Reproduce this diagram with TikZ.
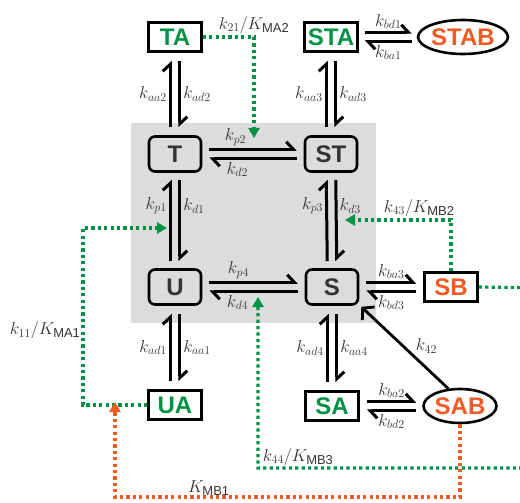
\documentclass[tikz,border=0pt]{standalone}
\usepackage{fontspec}
\setsansfont{Liberation Sans}
\usetikzlibrary{arrows.meta, positioning, backgrounds, shapes.geometric}

\definecolor{boxgreen}{HTML}{009245}
\definecolor{boxorange}{HTML}{F15A24}
\definecolor{coregray}{HTML}{DCDCDC}
\definecolor{inkgray}{HTML}{333333}

\begin{document}
\begin{tikzpicture}[
        x=1pt, y=-1pt, on grid,
        statebox/.style = {rectangle, draw=black, line width=2.6pt, fill=white, inner sep=0pt, minimum width=53pt, minimum height=29pt, font=\sffamily\bfseries\fontsize{24}{28}\selectfont, text=boxgreen},
        boundbox/.style = {statebox, text=boxorange},
        corebox/.style = {rectangle, rounded corners=6pt, draw=black, line width=2.6pt, inner sep=0pt, minimum width=52pt, minimum height=35pt, font=\sffamily\bfseries\fontsize{24}{28}\selectfont, text=inkgray},
        cplx/.style = {ellipse, draw=black, line width=2.6pt, fill=white, inner sep=0pt, minimum height=34pt, font=\sffamily\bfseries\fontsize{24}{28}\selectfont, text=boxorange},
        rate/.style = {font=\fontsize{18.5}{22}\selectfont, text=inkgray, inner sep=2pt},
        fwd/.style = {draw, line width=3pt, line join=miter, -{Straight Barb[harpoon, length=7pt, width=15pt]}},
        pull/.style = {draw, line width=2.8pt, -{Straight Barb[length=8pt, width=18pt]}},
        gdot/.style = {draw=boxgreen, line width=3.2pt, dash pattern=on 3.2pt off 3.2pt, -{Triangle[length=10pt, width=11pt]}},
        odot/.style = {gdot, draw=boxorange}
    ]
    \useasboundingbox (0,0) rectangle (520,503);

    % Core states
    \node [corebox] (T) at (175,154) {T};
    \node [corebox, right=156pt of T] (ST) {ST};
    \node [corebox, below=133pt of T] (U) {U};
    \node [corebox, right=157pt of U] (S) {S};

    % Bound states
    \node [statebox, above=117pt of T] (TA) {TA};
    \node [statebox, above=117pt of ST] (STA) {STA};
    \node [cplx, minimum width=82pt, right=132pt of STA] (STAB) {STAB};
    \node [boundbox, right=119pt of S] (SB) {SB};
    \node [statebox, below=118pt of U] (UA) {UA};
    \node [statebox, below=119pt of S] (SA) {SA};
    \node [cplx, minimum width=73pt, right=128pt of SA] (SAB) {SAB};

    % Background
    \begin{scope}[on background layer]
        \fill[coregray] ([xshift=-17pt, yshift=12pt]T.north west) rectangle ([xshift=17pt, yshift=-17pt]S.south east);
    \end{scope}

    % Core equilibria
    \path [fwd] ([xshift=7pt, yshift=4.75pt]T.east) -- node[rate, pos=0.3, above] {$k_{p2}$} ([xshift=-7pt, yshift=4.75pt]ST.west);
    \path [fwd] ([xshift=-7pt, yshift=-4.75pt]ST.west) -- node[rate, pos=0.68, below] {$k_{d2}$} ([xshift=7pt, yshift=-4.75pt]T.east);
    \path [fwd] ([xshift=7pt, yshift=4.75pt]U.east) -- node[rate, pos=0.33, above] {$k_{p4}$} ([xshift=-7pt, yshift=4.75pt]S.west);
    \path [fwd] ([xshift=-7pt, yshift=-4.75pt]S.west) -- node[rate, pos=0.68, below] {$k_{d4}$} ([xshift=7pt, yshift=-4.75pt]U.east);
    \path [fwd] ([xshift=-4.75pt, yshift=7pt]U.north) -- node[rate, pos=0.68, left] {$k_{p1}$} ([xshift=-4.75pt, yshift=-7pt]T.south);
    \path [fwd] ([xshift=4.75pt, yshift=-7pt]T.south) -- node[rate, pos=0.32, right] {$k_{d1}$} ([xshift=4.75pt, yshift=7pt]U.north);
    \path [fwd] ([xshift=-4.75pt, yshift=7pt]S.north) -- node[rate, pos=0.68, left] {$k_{p3}$} ([xshift=-4.75pt, yshift=-7pt]ST.south);
    \path [fwd] ([xshift=4.75pt, yshift=-7pt]ST.south) -- node[rate, pos=0.32, right] {$k_{d3}$} ([xshift=4.75pt, yshift=7pt]S.north);

    % Binding equilibria
    \path [fwd] ([xshift=-4.75pt, yshift=8pt]T.north) -- node[rate, left] {$k_{aa2}$} ([xshift=-4.75pt, yshift=-8pt]TA.south);
    \path [fwd] ([xshift=4.75pt, yshift=-8pt]TA.south) -- node[rate, right] {$k_{ad2}$} ([xshift=4.75pt, yshift=8pt]T.north);
    \path [fwd] ([xshift=-4.75pt, yshift=8pt]ST.north) -- node[rate, left] {$k_{aa3}$} ([xshift=-4.75pt, yshift=-8pt]STA.south);
    \path [fwd] ([xshift=4.75pt, yshift=-8pt]STA.south) -- node[rate, right] {$k_{ad3}$} ([xshift=4.75pt, yshift=8pt]ST.north);
    \path [fwd] ([xshift=-4.75pt, yshift=8pt]UA.north) -- node[rate, left] {$k_{ad1}$} ([xshift=-4.75pt, yshift=-8pt]U.south);
    \path [fwd] ([xshift=4.75pt, yshift=-8pt]U.south) -- node[rate, right] {$k_{aa1}$} ([xshift=4.75pt, yshift=8pt]UA.north);
    \path [fwd] ([xshift=-4.75pt, yshift=8pt]SA.north) -- node[rate, left] {$k_{ad4}$} ([xshift=-4.75pt, yshift=-8pt]S.south);
    \path [fwd] ([xshift=4.75pt, yshift=-8pt]S.south) -- node[rate, right] {$k_{aa4}$} ([xshift=4.75pt, yshift=8pt]SA.north);

    \path [fwd] ([xshift=6pt, yshift=4.75pt]STA.east) -- node[rate, above] {$k_{bd1}$} ([xshift=-5pt, yshift=4.75pt]STAB.west);
    \path [fwd] ([xshift=-5pt, yshift=-4.75pt]STAB.west) -- node[rate, below] {$k_{ba1}$} ([xshift=6pt, yshift=-4.75pt]STA.east);
    \path [fwd] ([xshift=7pt, yshift=4.75pt]S.east) -- node[rate, above] {$k_{ba3}$} ([xshift=-7pt, yshift=4.75pt]SB.west);
    \path [fwd] ([xshift=-7pt, yshift=-4.75pt]SB.west) -- node[rate, below] {$k_{bd3}$} ([xshift=7pt, yshift=-4.75pt]S.east);
    \path [fwd] ([xshift=7pt, yshift=4.75pt]SA.east) -- node[rate, above] {$k_{ba2}$} ([xshift=-6pt, yshift=4.75pt]SAB.west);
    \path [fwd] ([xshift=-6pt, yshift=-4.75pt]SAB.west) -- node[rate, below] {$k_{bd2}$} ([xshift=7pt, yshift=-4.75pt]SA.east);

    \path [pull] (SAB.124) -- node[rate, pos=0.4, above right, inner sep=1pt] {$k_{42}$} ([xshift=2pt, yshift=-1pt]S.south east);

    % Modulator feeds
    \coordinate (mA2) at (254,138);
    \coordinate (mB2) at (345,220);
    \coordinate (mA1c) at (83,228);
    \coordinate (mA1) at (167,228);
    \coordinate (mB1c) at (115,497);
    \coordinate (mB1) at (115,402);
    \coordinate (mB3) at (258,297);
    \coordinate (offA) at (545,288);
    \coordinate (offB) at (545,468);

    \path [gdot] (TA.east) -| node[rate, pos=0.5, above] {$k_{21}/K_{\mathsf{MA2}}$} (mA2);
    \path [gdot] (SB.north) |- node[rate, pos=0.65, above] {$k_{43}/K_{\mathsf{MB2}}$} (mB2);
    \path [gdot] (UA.west) -| node[rate, pos=0.71, left, inner sep=1pt] {$k_{11}/K_{\mathsf{MA1}}$} (mA1c) -- (mA1);
    \path [gdot] (SB.east) -- (offA) -- (offB) -| node[rate, pos=0.43, above, inner sep=1pt] {$k_{44}/K_{\mathsf{MB3}}$} (mB3);
    \path [odot] (SAB.south) |- node[rate, pos=0.864, above, inner sep=0pt] {$K_{\mathsf{MB1}}$} (mB1c) -- (mB1);

\end{tikzpicture}
\end{document}
